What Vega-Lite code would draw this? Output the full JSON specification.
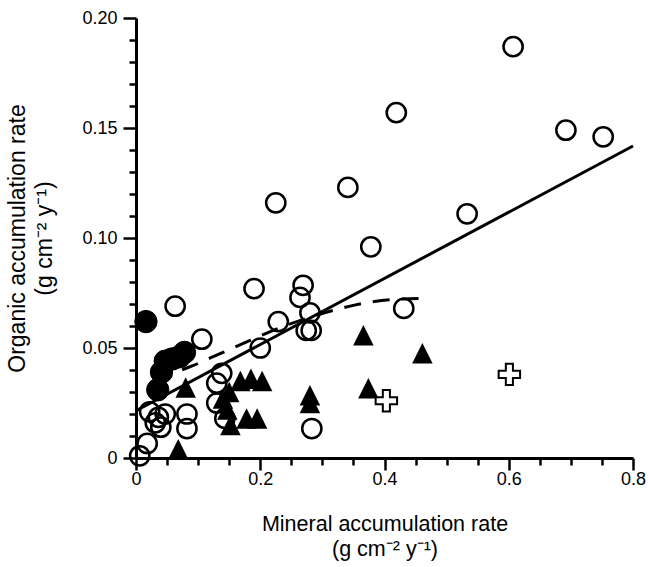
{
  "$schema": "https://vega.github.io/schema/vega-lite/v6.json",
  "width": 497,
  "height": 440,
  "autosize": {"type": "none"},
  "padding": {"left": 136, "top": 18, "right": 15, "bottom": 109},
  "background": "white",
  "config": {
    "view": {"stroke": null},
    "font": "Liberation Sans",
    "axis": {
      "grid": false,
      "domainColor": "black",
      "domainWidth": 3,
      "tickColor": "black",
      "tickWidth": 2.5,
      "labelColor": "black",
      "labelFontSize": 18,
      "titleColor": "black",
      "titleFontWeight": "normal"
    }
  },
  "datasets": {
    "pts": [
      {"x": 0.607, "y": 0.187, "g": "open"},
      {"x": 0.419, "y": 0.157, "g": "open"},
      {"x": 0.692, "y": 0.149, "g": "open"},
      {"x": 0.752, "y": 0.146, "g": "open"},
      {"x": 0.341, "y": 0.123, "g": "open"},
      {"x": 0.225, "y": 0.116, "g": "open"},
      {"x": 0.533, "y": 0.111, "g": "open"},
      {"x": 0.378, "y": 0.096, "g": "open"},
      {"x": 0.190, "y": 0.077, "g": "open"},
      {"x": 0.269, "y": 0.0785, "g": "open"},
      {"x": 0.264, "y": 0.073, "g": "open"},
      {"x": 0.063, "y": 0.069, "g": "open"},
      {"x": 0.431, "y": 0.068, "g": "open"},
      {"x": 0.280, "y": 0.066, "g": "open"},
      {"x": 0.229, "y": 0.062, "g": "open"},
      {"x": 0.274, "y": 0.058, "g": "open"},
      {"x": 0.282, "y": 0.058, "g": "open"},
      {"x": 0.106, "y": 0.054, "g": "open"},
      {"x": 0.200, "y": 0.050, "g": "open"},
      {"x": 0.138, "y": 0.0385, "g": "open"},
      {"x": 0.130, "y": 0.034, "g": "open"},
      {"x": 0.130, "y": 0.025, "g": "open"},
      {"x": 0.143, "y": 0.018, "g": "open"},
      {"x": 0.082, "y": 0.020, "g": "open"},
      {"x": 0.082, "y": 0.0134, "g": "open"},
      {"x": 0.283, "y": 0.0134, "g": "open"},
      {"x": 0.036, "y": 0.0185, "g": "open"},
      {"x": 0.031, "y": 0.016, "g": "open"},
      {"x": 0.022, "y": 0.021, "g": "open"},
      {"x": 0.047, "y": 0.020, "g": "open"},
      {"x": 0.040, "y": 0.014, "g": "open"},
      {"x": 0.018, "y": 0.0066, "g": "open"},
      {"x": 0.006, "y": 0.001, "g": "open"},
      {"x": 0.016, "y": 0.062, "g": "solid"},
      {"x": 0.078, "y": 0.048, "g": "solid"},
      {"x": 0.070, "y": 0.046, "g": "solid"},
      {"x": 0.058, "y": 0.045, "g": "solid"},
      {"x": 0.047, "y": 0.044, "g": "solid"},
      {"x": 0.041, "y": 0.039, "g": "solid"},
      {"x": 0.035, "y": 0.031, "g": "solid"},
      {"x": 0.080, "y": 0.032, "g": "tri"},
      {"x": 0.068, "y": 0.004, "g": "tri"},
      {"x": 0.168, "y": 0.035, "g": "tri"},
      {"x": 0.185, "y": 0.036, "g": "tri"},
      {"x": 0.203, "y": 0.035, "g": "tri"},
      {"x": 0.140, "y": 0.027, "g": "tri"},
      {"x": 0.150, "y": 0.030, "g": "tri"},
      {"x": 0.147, "y": 0.022, "g": "tri"},
      {"x": 0.152, "y": 0.015, "g": "tri"},
      {"x": 0.178, "y": 0.018, "g": "tri"},
      {"x": 0.195, "y": 0.018, "g": "tri"},
      {"x": 0.280, "y": 0.0285, "g": "tri"},
      {"x": 0.280, "y": 0.025, "g": "tri"},
      {"x": 0.366, "y": 0.0558, "g": "tri"},
      {"x": 0.461, "y": 0.0476, "g": "tri"},
      {"x": 0.374, "y": 0.0317, "g": "tri"},
      {"x": 0.403, "y": 0.026, "g": "cross"},
      {"x": 0.601, "y": 0.038, "g": "cross"}
    ],
    "fitline": [
      {"x": 0.0, "y": 0.0215},
      {"x": 0.8, "y": 0.1418}
    ],
    "dashline": [
      {"x": 0.035, "y": 0.033},
      {"x": 0.06, "y": 0.038},
      {"x": 0.10, "y": 0.043},
      {"x": 0.14, "y": 0.048},
      {"x": 0.18, "y": 0.053},
      {"x": 0.23, "y": 0.059},
      {"x": 0.28, "y": 0.064},
      {"x": 0.33, "y": 0.068},
      {"x": 0.37, "y": 0.0705},
      {"x": 0.41, "y": 0.072},
      {"x": 0.46, "y": 0.0725}
    ]
  },
  "encoding": {
    "x": {
      "field": "x",
      "type": "quantitative",
      "scale": {"domain": [0, 0.8], "nice": false, "zero": false},
      "axis": {
        "values": [0, 0.05, 0.1, 0.15, 0.2, 0.25, 0.3, 0.35, 0.4, 0.45, 0.5, 0.55, 0.6, 0.65, 0.7, 0.75, 0.8],
        "labelExpr": "datum.value == 0 ? '0' : (round(datum.value * 100) % 20 == 0 ? format(datum.value, '.1f') : '')",
        "tickSize": {"condition": {"test": "round(datum.value * 100) % 20 == 0", "value": 12}, "value": 7},
        "labelPadding": 0,
        "labelFlush": false,
        "labelOverlap": false,
        "title": ["Mineral accumulation rate", "(g cm⁻² y⁻¹)"],
        "titleFontSize": 21.5,
        "titleLineHeight": 25,
        "titlePadding": 25
      }
    },
    "y": {
      "field": "y",
      "type": "quantitative",
      "scale": {"domain": [0, 0.2], "nice": false, "zero": false},
      "axis": {
        "values": [0, 0.01, 0.02, 0.03, 0.04, 0.05, 0.06, 0.07, 0.08, 0.09, 0.1, 0.11, 0.12, 0.13, 0.14, 0.15, 0.16, 0.17, 0.18, 0.19, 0.2],
        "labelExpr": "datum.value == 0 ? '0' : (round(datum.value * 100) % 5 == 0 ? format(datum.value, '.2f') : '')",
        "tickSize": {"condition": {"test": "round(datum.value * 100) % 5 == 0", "value": 13}, "value": 7},
        "labelPadding": 6,
        "labelFlush": false,
        "labelOverlap": false,
        "title": ["Organic accumulation rate", "(g cm⁻² y⁻¹)"],
        "titleFontSize": 23,
        "titleLineHeight": 27,
        "titlePadding": 25
      }
    }
  },
  "layer": [
    {
      "data": {"name": "fitline"},
      "mark": {"type": "line", "color": "black", "strokeWidth": 3}
    },
    {
      "data": {"name": "dashline"},
      "mark": {"type": "line", "color": "black", "strokeWidth": 3, "strokeDash": [17, 12], "interpolate": "monotone"}
    },
    {
      "data": {"name": "pts"},
      "transform": [{"filter": "datum.g == 'open'"}],
      "mark": {"type": "point", "shape": "circle", "size": 370, "filled": false, "stroke": "black", "strokeWidth": 2.5, "opacity": 1}
    },
    {
      "data": {"name": "pts"},
      "transform": [{"filter": "datum.g == 'solid'"}],
      "mark": {"type": "point", "shape": "circle", "size": 500, "filled": true, "fill": "black", "stroke": "black", "strokeWidth": 1, "opacity": 1}
    },
    {
      "data": {"name": "pts"},
      "transform": [{"filter": "datum.g == 'tri'"}],
      "mark": {"type": "point", "shape": "M0,-1L1,1L-1,1Z", "size": 420, "filled": true, "fill": "black", "strokeWidth": 0, "opacity": 1}
    },
    {
      "data": {"name": "pts"},
      "transform": [{"filter": "datum.g == 'cross'"}],
      "mark": {"type": "point", "shape": "M-0.33,-1L0.33,-1L0.33,-0.33L1,-0.33L1,0.33L0.33,0.33L0.33,1L-0.33,1L-0.33,0.33L-1,0.33L-1,-0.33L-0.33,-0.33Z", "size": 460, "filled": true, "fill": "white", "stroke": "black", "strokeWidth": 2, "opacity": 1}
    }
  ]
}
